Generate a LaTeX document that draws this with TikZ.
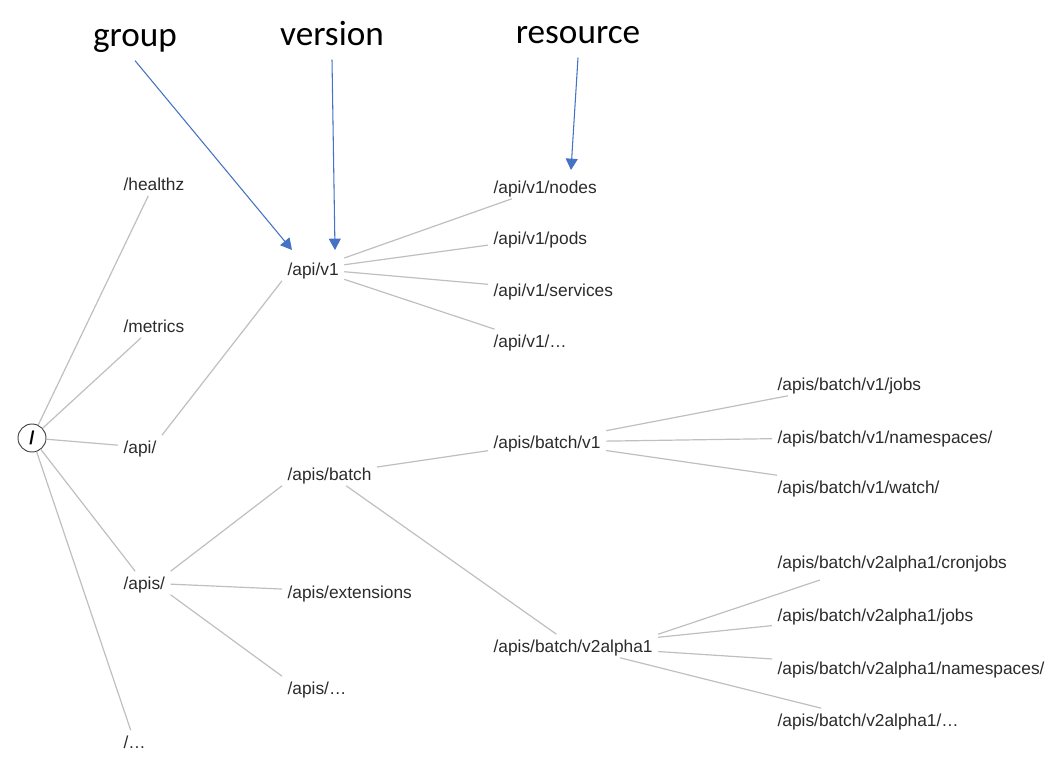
\documentclass[tikz,border=0pt]{standalone}
\usepackage{fontspec}
\setmainfont{Liberation Sans}
\newfontfamily\headfont{Carlito}
\usetikzlibrary{arrows.meta}
\definecolor{linkgray}{HTML}{BFBFBF}
\definecolor{pointblue}{HTML}{4472C4}
\definecolor{labelgray}{HTML}{2B2B2B}

\begin{document}
\begin{tikzpicture}[x=0.75pt,y=-0.75pt,
	leaf/.style={anchor=west,inner sep=4pt,text height=9.3pt,text depth=0pt,text=labelgray,font=\fontsize{13}{16}\selectfont},
	head/.style={anchor=base,inner sep=2pt,text depth=8pt,font=\headfont\fontsize{26.4}{30}\selectfont},
	link/.style={draw=linkgray,line width=0.9pt},
	pointer/.style={draw=pointblue,line width=0.8pt,-{Triangle[width=9pt,length=8.5pt]}}]
	\useasboundingbox (0,0) rectangle (1060,774);
	% headings
	\node[head] (group) at (135,47) {group};
	\node[head] (version) at (332,46) {version};
	\node[head] (resource) at (578,44) {resource};
	\coordinate (grouptip) at (292,250);
	\coordinate (versiontip) at (335,250);
	\coordinate (resourcetip) at (571,170);
	% tree
	\node[shape=circle,draw=black!75,line width=0.7pt,minimum size=21pt,inner sep=0pt,font=\bfseries\fontsize{14}{16}\selectfont] (root) at (32,438) {/};
	\node[leaf] (healthz) at (118,184) {/healthz};
	\node[leaf] (metrics) at (118,326) {/metrics};
	\node[leaf] (api) at (118,447) {/api/};
	\node[leaf] (apis) at (118,583) {/apis/};
	\node[leaf] (rootmore) at (118,742) {/…};
	\node[leaf] (apiv1) at (282,269) {/api/v1};
	\node[leaf] (batch) at (282,474) {/apis/batch};
	\node[leaf] (extensions) at (282,592) {/apis/extensions};
	\node[leaf] (apismore) at (282,688) {/apis/…};
	\node[leaf] (nodes) at (488,187) {/api/v1/nodes};
	\node[leaf] (pods) at (488,238) {/api/v1/pods};
	\node[leaf] (services) at (488,290) {/api/v1/services};
	\node[leaf] (v1more) at (488,341) {/api/v1/…};
	\node[leaf] (batchv1) at (488,442) {/apis/batch/v1};
	\node[leaf] (v2alpha1) at (488,646) {/apis/batch/v2alpha1};
	\node[leaf] (jobs) at (772,384) {/apis/batch/v1/jobs};
	\node[leaf] (namespaces) at (772,437) {/apis/batch/v1/namespaces/};
	\node[leaf] (watch) at (772,487) {/apis/batch/v1/watch/};
	\node[leaf] (cronjobs) at (772,562) {/apis/batch/v2alpha1/cronjobs};
	\node[leaf] (v2jobs) at (772,615) {/apis/batch/v2alpha1/jobs};
	\node[leaf] (v2namespaces) at (772,668) {/apis/batch/v2alpha1/namespaces/};
	\node[leaf] (v2more) at (772,720) {/apis/batch/v2alpha1/…};
	\coordinate (cronfoot) at (820,580);
	% links
	\draw[link] (root) -- (healthz);
	\draw[link] (root) -- (metrics);
	\draw[link] (root) -- (api);
	\draw[link] (root) -- (apis);
	\draw[link] (root) -- (rootmore);
	\draw[link] (api.north east) -- (apiv1.south west);
	\draw[link] (apiv1) -- (nodes);
	\draw[link] (apiv1) -- (pods);
	\draw[link] (apiv1) -- (services);
	\draw[link] (apiv1) -- (v1more);
	\draw[link] (apis.north east) -- (batch.south west);
	\draw[link] (apis) -- (extensions);
	\draw[link] (apis.south east) -- (apismore.north west);
	\draw[link] (batch) -- (batchv1);
	\draw[link] (batch) -- (v2alpha1);
	\draw[link] (batchv1) -- (jobs);
	\draw[link] (batchv1) -- (namespaces);
	\draw[link] (batchv1) -- (watch);
	\draw[link] (v2alpha1.north east) -- (cronfoot);
	\draw[link] (v2alpha1) -- (v2jobs);
	\draw[link] (v2alpha1) -- (v2namespaces);
	\draw[link] (v2alpha1) -- (v2more);
	% pointers
	\draw[pointer] (group.south) -- (grouptip);
	\draw[pointer] (version.south) -- (versiontip);
	\draw[pointer] (resource.south) -- (resourcetip);
\end{tikzpicture}
\end{document}
